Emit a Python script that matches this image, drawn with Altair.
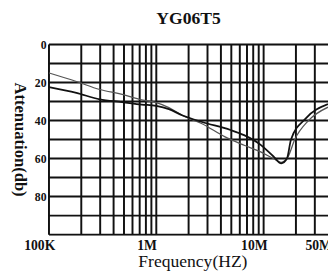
import altair as alt
import pandas as pd

# Curve data
thin_freq = [1e5, 1.8e5, 2.97e5, 4.81e5, 7.31e5, 1.0e6, 1.31e6, 1.76e6, 2.67e6,
             4.33e6, 6.58e6, 9.39e6, 1.23e7, 1.46e7, 1.69e7, 1.95e7, 2.62e7, 3.98e7]
thin_db = [15, 19.5, 23.7, 26.3, 29.2, 30.6, 33.2, 37.4, 41.7,
           48.5, 53, 56.5, 60, 62, 59, 50, 40, 33]

thick_freq = [1e5, 1.8e5, 2.97e5, 4.81e5, 7.31e5, 1.0e6, 1.31e6, 1.76e6, 2.67e6,
              4.91e6, 6.58e6, 9.39e6, 1.23e7, 1.46e7, 1.65e7, 1.8e7, 2.46e7, 3.98e7]
thick_db = [22.5, 25.5, 28.9, 30.3, 31.6, 32.3, 34, 37.4, 40.8,
            45, 47.7, 52.8, 58.8, 62.5, 60, 50, 39, 31.4]

# Grid and axis
grid_freq = [1e5, 2e5, 3e5, 4e5, 5e5, 6e5, 7e5, 8e5, 9e5,
             1e6, 2e6, 3e6, 4e6, 5e6, 6e6, 7e6, 8e6, 9e6,
             1e7, 2e7, 3e7]
grid_db = [0, 10, 20, 30, 40, 50, 60, 70, 80, 90, 100]
x_tick_vals = [1e5, 1e6, 1e7, 3.98e7]
x_tick_text = ["100K", "1M", "10M", "50M"]
y_tick_vals = [0, 20, 40, 60, 80]
x_domain = [1e5, 3.98e7]

curves = pd.concat([
    pd.DataFrame({"f": thin_freq, "db": thin_db, "s": "thin"}),
    pd.DataFrame({"f": thick_freq, "db": thick_db, "s": "thick"}),
])

label_expr = " : ".join(
    [f"datum.value < {v * 1.05} ? '{t}'" for v, t in zip(x_tick_vals, x_tick_text)]
) + " : ''"

FONT = "Liberation Serif"

xscale = alt.Scale(type="log", domain=x_domain, nice=False)
yscale = alt.Scale(domain=[0, 100], reverse=True, nice=False)

xaxis = alt.Axis(values=x_tick_vals, labelExpr=label_expr, grid=False, ticks=False,
                 domain=False, labelFlush=False, tickOffset=-10, labelPadding=4,
                 labelFont=FONT, labelFontSize=14, labelFontWeight="bold",
                 labelColor="#111", title="Frequency(HZ)", titleFont=FONT,
                 titleFontSize=18, titleFontWeight="normal", titleColor="#111",
                 titleX=147, titleY=33, titleBaseline="alphabetic")
yaxis = alt.Axis(values=y_tick_vals, grid=False, ticks=False, domain=False,
                 labelPadding=3, labelFont=FONT, labelFontSize=12,
                 labelFontWeight="bold", labelColor="#111",
                 title="Attenuation(db)", titleFont=FONT, titleFontSize=17,
                 titleFontWeight="bold", titleColor="#111", titleAngle=90,
                 titleX=-30, titleY=97, titleBaseline="middle", titleAlign="center")

vgrid = alt.Chart(pd.DataFrame({"f": grid_freq})).mark_rule(
    color="#111", strokeWidth=2).encode(x=alt.X("f:Q", scale=xscale, axis=xaxis))
hgrid = alt.Chart(pd.DataFrame({"db": grid_db})).mark_rule(
    color="#111", strokeWidth=2).encode(y=alt.Y("db:Q", scale=yscale, axis=yaxis))

lines = alt.Chart(curves).mark_line(interpolate="monotone", clip=True).encode(
    x=alt.X("f:Q", scale=xscale),
    y=alt.Y("db:Q", scale=yscale),
    detail="s:N",
    color=alt.Color("s:N", scale=alt.Scale(domain=["thin", "thick"],
                                           range=["#555", "#111"]), legend=None),
    strokeWidth=alt.StrokeWidth("s:N", scale=alt.Scale(domain=["thin", "thick"],
                                                       range=[1.3, 1.8]), legend=None),
)

chart = alt.layer(vgrid, hgrid, lines).properties(
    width=286, height=195,
    title=alt.TitleParams("YG06T5", font=FONT, fontSize=18, fontWeight="bold",
                          color="#111", offset=11, anchor="middle"),
    autosize=alt.AutoSizeParams(type="none"),
    padding={"left": 42, "top": 34, "right": 0, "bottom": 36},
).configure_view(stroke="#111", strokeWidth=2).configure(background="white")

chart.save("out.html", embed_options={"renderer": "svg", "actions": False})
